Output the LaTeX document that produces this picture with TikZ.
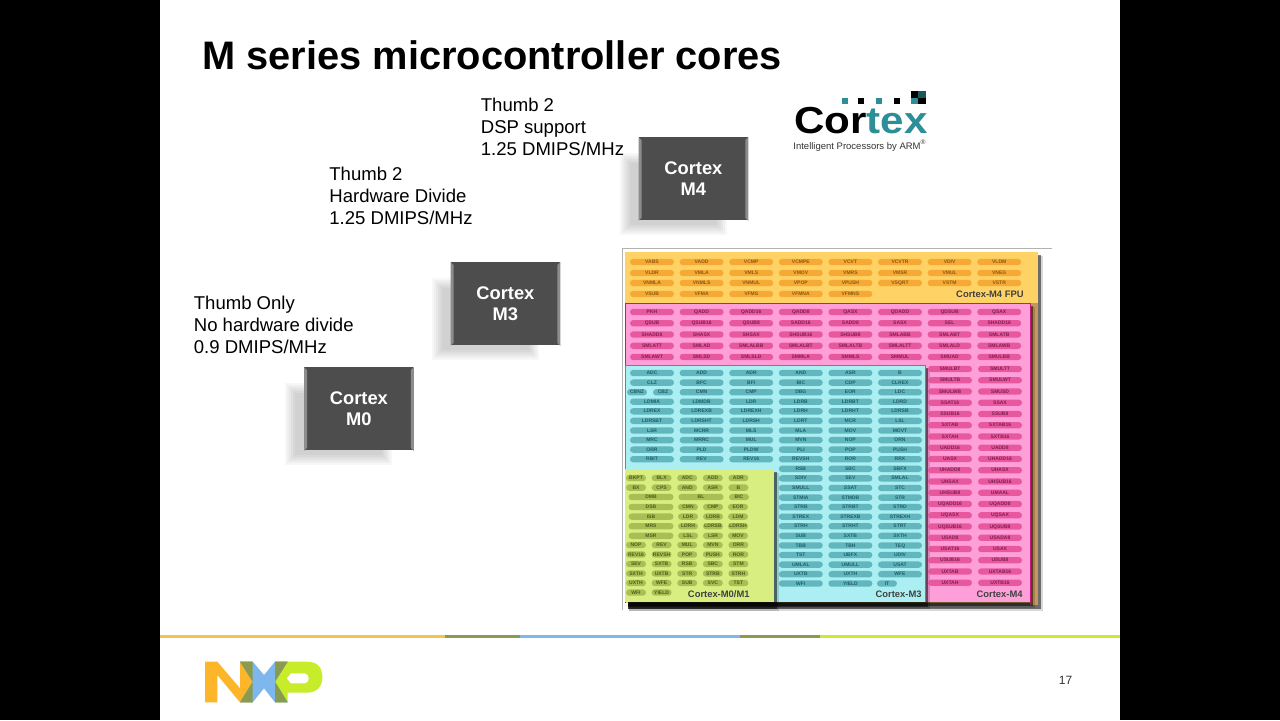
\documentclass[tikz,border=0pt]{standalone}
\usepackage{fontspec}
\usepackage{graphicx}
\setmainfont{Liberation Sans}
\definecolor{fpuBack}{HTML}{FFD266}
\definecolor{fpuPill}{HTML}{F7A935}
\definecolor{fpuText}{HTML}{8A5A10}
\definecolor{fpuTan}{HTML}{C8965A}
\definecolor{dspBack}{HTML}{FF9FDA}
\definecolor{dspPill}{HTML}{E8589F}
\definecolor{dspText}{HTML}{80204F}
\definecolor{dspEdge}{HTML}{C01C78}
\definecolor{mthreeBack}{HTML}{ABEFF2}
\definecolor{mthreePill}{HTML}{62B7BF}
\definecolor{mthreeText}{HTML}{1F5F68}
\definecolor{mthreeEdge}{HTML}{2F9CA6}
\definecolor{mzeroBack}{HTML}{D9EE80}
\definecolor{mzeroPill}{HTML}{A9BE55}
\definecolor{mzeroText}{HTML}{4F5E1A}
\definecolor{coreGrey}{HTML}{4D4D4D}
\definecolor{coreEdge}{HTML}{8C8C8C}
\definecolor{logoTeal}{HTML}{2C8F98}
\definecolor{nxpOrange}{HTML}{FDB62A}
\definecolor{nxpBlue}{HTML}{7DB7EC}
\definecolor{nxpOlive}{HTML}{8A9A4E}
\definecolor{nxpLime}{HTML}{C6EC2A}
\definecolor{barYellow}{HTML}{F5C24A}
\tikzset{
  pill/.style={rounded corners=1.6pt, inner sep=0pt, minimum height=3.2pt, minimum width=22pt,
    text height=1.6pt, text depth=0pt, font=\bfseries\fontsize{2.5}{2.5}\selectfont},
  pillfpu/.style={pill, fill=fpuPill, text=fpuText},
  pilldsp/.style={pill, fill=dspPill, text=dspText},
  pillthree/.style={pill, fill=mthreePill, text=mthreeText},
  pillzero/.style={pill, fill=mzeroPill, text=mzeroText, minimum width=10pt},
  pillwide/.style={pillzero, minimum width=22.5pt},
  panelname/.style={font=\bfseries\fontsize{4.7}{5}\selectfont, text=black!75, inner sep=0pt, anchor=east},
  corebox/.style={fill=coreGrey, minimum width=54.5pt, minimum height=41.5pt, inner sep=0pt, align=center,
    text=white, font=\bfseries\fontsize{9.15}{10.5}\selectfont},
  bodytext/.style={align=left, anchor=north west, inner sep=0pt, font=\fontsize{9.27}{11}\selectfont}
}
% one row of pills on the 49.6 wide column grid
\newcommand{\pillrow}[5]{\foreach \lab [count=\c from #4] in {#5} \node[#1] (#2-\c) at ({652+49.6*(\c-1)},#3) {\lab};}
% soft grey shadow + core box with bevelled sides
\newcommand{\coreblock}[4]{
  \foreach \d in {0,2,...,10}
    \fill[black, opacity=0.03] ({#2-19+\d},{#3+16+\d}) rectangle ({#2+88-\d},{#3+98-\d});
  \node[corebox, anchor=north west] (#1) at (#2,#3) {#4};
  \fill[coreEdge] (#1.north west) -- ++(3,3) -- ([shift={(3,-3)}]#1.south west) -- (#1.south west) -- cycle;
  \fill[coreEdge] (#1.north east) -- ++(-3,3) -- ([shift={(-3,-3)}]#1.south east) -- (#1.south east) -- cycle;
}
\newcommand{\panelshadow}[4]{
  \fill[black, opacity=0.15] (#1+4,#2+4) rectangle (#3+5,#4+6);
  \fill[black, opacity=0.5] (#1+3,#2+3) rectangle (#3+3,#4+4);
}
\begin{document}
\begin{tikzpicture}[x=0.5pt,y=-0.5pt]
  \useasboundingbox (0,0) rectangle (1280,720);
  \fill[black] (0,0) rectangle (1280,720);
  \fill[white] (160,0) rectangle (1120,720);

  % title
  \node[anchor=base west, inner sep=0pt, font=\bfseries\fontsize{19.9}{24}\selectfont] (title) at (202,69) {M series microcontroller cores};

  % the three core boxes
  \coreblock{mfour}{638.5}{137}{Cortex\\M4}
  \coreblock{mthree}{450.5}{262}{Cortex\\M3}
  \coreblock{mzero}{304}{367}{Cortex\\M0}

  % add labels
  \node[bodytext] (textfour) at (480.5,98) {Thumb 2\\DSP support\\1.25 DMIPS/MHz};
  \node[bodytext] (textthree) at (329,167) {Thumb 2\\Hardware Divide\\1.25 DMIPS/MHz};
  \node[bodytext] (textzero) at (193.5,296) {Thumb Only\\No hardware divide\\0.9 DMIPS/MHz};

  % Cortex logo
  \node[anchor=base west, inner sep=0pt, font=\bfseries\fontsize{18.8}{20}\selectfont] (logo) at (794,133)
    {\scalebox{1.12}[1]{Cor\textcolor{logoTeal}{tex}}};
  \node[anchor=base west, inner sep=0pt, font=\fontsize{4.75}{5}\selectfont, text=black!80] (logotag) at (793,149) {Intelligent Processors by ARM\textsuperscript{®}};
  \foreach \px/\col in {845/logoTeal,861/black,879/logoTeal,897/black}
    \fill[\col] (\px-3,98) rectangle (\px+3,104);
  \fill[black] (911,91) rectangle (926,104);
  \fill[logoTeal] (911,98) rectangle (918,104);
  \fill[logoTeal!60!black] (918,91) rectangle (926,98);

  % frame of the instruction chart
  \draw[black!30, line width=0.4pt] (622,610) -- (622,248) -- (1052,248);

  % panels from back to front
  \panelshadow{625}{252}{1038}{605}
  \fill[fpuBack] (625,252) rectangle (1038,603);
  \fill[fpuTan] (1030,303) rectangle (1038,605);
  \panelshadow{625}{303}{1030}{602}
  \fill[dspBack] (625,303) rectangle (1030,602);
  \draw[dspEdge, line width=0.5pt] (625,603) -- (625,303.5) -- (1030,303.5) -- (1030,603);
  \panelshadow{625}{365}{925}{603}
  \fill[mthreeBack] (625,365) rectangle (925,602);
  \draw[mthreeEdge, line width=0.5pt] (625,602) -- (625,365.5) -- (925,365.5) -- (925,602);
  \panelshadow{625}{469}{774}{605}
  \fill[mzeroBack] (625,469) rectangle (774,602);

  % Cortex-M4 FPU
  \pillrow{pillfpu}{fa}{262}{1}{VABS,VADD,VCMP,VCMPE,VCVT,VCVTR,VDIV,VLDM}
  \pillrow{pillfpu}{fb}{273}{1}{VLDR,VMLA,VMLS,VMOV,VMRS,VMSR,VMUL,VNEG}
  \pillrow{pillfpu}{fc}{283}{1}{VNMLA,VNMLS,VNMUL,VPOP,VPUSH,VSQRT,VSTM,VSTR}
  \pillrow{pillfpu}{fd}{294}{1}{VSUB,VFMA,VFMS,VFMNA,VFMNS}
  \node[panelname] (namefpu) at (1024,294) {Cortex-M4 FPU};

  % Cortex-M4
  \pillrow{pilldsp}{da}{312}{1}{PKH,QADD,QADD16,QADD8,QASX,QDADD,QDSUB,QSAX}
  \pillrow{pilldsp}{db}{323.2}{1}{QSUB,QSUB16,QSUB8,SADD16,SADD8,SASX,SEL,SHADD16}
  \pillrow{pilldsp}{dc}{334.5}{1}{SHADD8,SHASX,SHSAX,SHSUB16,SHSUB8,SMLABB,SMLABT,SMLATB}
  \pillrow{pilldsp}{dd}{345.8}{1}{SMLATT,SMLAD,SMLALBB,SMLALBT,SMLALTB,SMLALTT,SMLALD,SMLAWB}
  \pillrow{pilldsp}{de}{357}{1}{SMLAWT,SMLSD,SMLSLD,SMMLA,SMMLS,SMMUL,SMUAD,SMULBB}
  \foreach \one/\two [count=\r from 0] in {SMULBT/SMULTT,SMULTB/SMULWT,SMULWB/SMUSD,SSAT16/SSAX,SSUB16/SSUB8,
      SXTAB/SXTAB16,SXTAH/SXTB16,UADD16/UADD8,UASX/UHADD16,UHADD8/UHASX,UHSAX/UHSUB16,UHSUB8/UMAAL,
      UQADD16/UQADD8,UQASX/UQSAX,UQSUB16/UQSUB8,USAD8/USADA8,USAT16/USAX,USUB16/USUB8,UXTAB/UXTAB16,UXTAH/UXTB16} {
    \node[pilldsp] (dl-\r) at (950,{369+11.25*\r}) {\one};
    \node[pilldsp] (dr-\r) at (1000,{369+11.25*\r}) {\two};
  }
  \node[panelname] (namefour) at (1023,594) {Cortex-M4};

  % Cortex-M3
  \pillrow{pillthree}{ta}{373}{1}{ADC,ADD,ADR,AND,ASR,B}
  \pillrow{pillthree}{tb}{382.6}{1}{CLZ,BFC,BFI,BIC,CDP,CLREX}
  \node[pillzero, fill=mthreePill, text=mthreeText] (tcbnz) at (637,392.2) {CBNZ};
  \node[pillzero, fill=mthreePill, text=mthreeText] (tcbz) at (663,392.2) {CBZ};
  \pillrow{pillthree}{tc}{392.2}{2}{CMN,CMP,DBG,EOR,LDC}
  \pillrow{pillthree}{td}{401.7}{1}{LDMIA,LDMDB,LDR,LDRB,LDRBT,LDRD}
  \pillrow{pillthree}{te}{411.3}{1}{LDREX,LDREXB,LDREXH,LDRH,LDRHT,LDRSB}
  \pillrow{pillthree}{tf}{420.9}{1}{LDRSBT,LDRSHT,LDRSH,LDRT,MCR,LSL}
  \pillrow{pillthree}{tg}{430.5}{1}{LSR,MCRR,MLS,MLA,MOV,MOVT}
  \pillrow{pillthree}{th}{440.1}{1}{MRC,MRRC,MUL,MVN,NOP,ORN}
  \pillrow{pillthree}{ti}{449.6}{1}{ORR,PLD,PLDW,PLI,POP,PUSH}
  \pillrow{pillthree}{tj}{459.2}{1}{RBIT,REV,REV16,REVSH,ROR,RRX}
  \foreach \rowlist [count=\r from 0] in {{RSB,SBC,SBFX},{SDIV,SEV,SMLAL},{SMULL,SSAT,STC},{STMIA,STMDB,STR},
      {STRB,STRBT,STRD},{STREX,STREXB,STREXH},{STRH,STRHT,STRT},{SUB,SXTB,SXTH},{TBB,TBH,TEQ},
      {TST,UBFX,UDIV},{UMLAL,UMULL,USAT},{UXTB,UXTH,WFE}}
    \foreach \lab [count=\c from 4] in \rowlist
      \node[pillthree] (tl-\r-\c) at ({652+49.6*(\c-1)},{468.8+9.58*\r}) {\lab};
  \pillrow{pillthree}{tz}{583.5}{4}{WFI,YIELD}
  \node[pillzero, fill=mthreePill, text=mthreeText] (tit) at (887,583.5) {IT};
  \node[panelname] (namethree) at (922,594) {Cortex-M3};

  % Cortex-M0/M1
  \foreach \rowlist [count=\r from 0] in {{BKPT,BLX,ADC,ADD,ADR},{BX,CPS,AND,ASR,B}}
    \foreach \lab [count=\c from 0] in \rowlist
      \node[pillzero] (za-\r-\c) at ({636+25.6*\c},{478+9.6*\r}) {\lab};
  \node[pillwide] (zdmb) at (651,497) {DMB};
  \node[pillwide] (zbl) at (701,497) {BL};
  \node[pillzero] (zsvc) at (739,497) {BIC};
  \foreach \wide/\one/\two/\three [count=\r from 0] in {DSB/CMN/CMP/EOR,ISB/LDR/LDRB/LDM,MRS/LDRH/LDRSB/LDRSH,MSR/LSL/LSR/MOV} {
    \node[pillwide] (zw-\r) at (651,{507+9.6*\r}) {\wide};
    \node[pillzero] (zx-\r) at (688,{507+9.6*\r}) {\one};
    \node[pillzero] (zy-\r) at (713,{507+9.6*\r}) {\two};
    \node[pillzero] (zz-\r) at (738,{507+9.6*\r}) {\three};
  }
  \foreach \rowlist [count=\r from 0] in {{NOP,REV,MUL,MVN,ORR},{REV16,REVSH,POP,PUSH,ROR},{SEV,SXTB,RSB,SBC,STM},
      {SXTH,UXTB,STR,STRB,STRH},{UXTH,WFE,SUB,SVC,TST},{WFI,YIELD}}
    \foreach \lab [count=\c from 0] in \rowlist
      \node[pillzero] (zb-\r-\c) at ({636+25.6*\c},{545+9.5*\r}) {\lab};
  \node[panelname] (namezero) at (750,594) {Cortex-M0/M1};

  % footer bar
  \foreach \xa/\xb/\col in {160/445/barYellow,445/520/nxpOlive,520/740/nxpBlue,740/820/nxpOlive,820/1120/nxpLime}
    \fill[\col] (\xa,635) rectangle (\xb,638);

  % NXP logo
  \begin{scope}[shift={(160,620)}, x=0.1667pt, y=-0.1667pt]
    \fill[nxpOrange] (135,125) -- (172,125) -- (240,205) -- (240,125) -- (278,125) -- (278,247) -- (240,247)
      -- (172,165) -- (172,247) -- (135,247) -- cycle;
    \fill[nxpLime, even odd rule] (345,125) -- (440,125) .. controls (475,125) and (487,145) .. (487,172)
      .. controls (487,200) and (470,218) .. (440,218) -- (383,218) -- (383,247) -- (345,247) -- cycle
      (392,160) -- (435,160) .. controls (450,160) and (450,190) .. (435,190) -- (392,190) -- (380,175) -- cycle;
    \fill[nxpBlue] (240,125) -- (278,125) -- (312,165) -- (345,125) -- (383,125) -- (345,185) -- (383,247)
      -- (345,247) -- (312,205) -- (278,247) -- (240,247) -- (278,185) -- cycle;
    \fill[nxpOlive] (240,125) -- (278,125) -- (278,185) -- cycle;
    \fill[nxpOlive] (240,247) -- (278,247) -- (278,185) -- cycle;
    \fill[nxpOlive] (345,125) -- (383,125) -- (345,185) -- cycle;
    \fill[nxpOlive] (345,185) -- (383,247) -- (345,247) -- cycle;
  \end{scope}

  % page number
  \node[inner sep=0pt, font=\fontsize{6}{7}\selectfont, text=black!80] (pagenum) at (1065.5,680) {17};
\end{tikzpicture}
\end{document}
